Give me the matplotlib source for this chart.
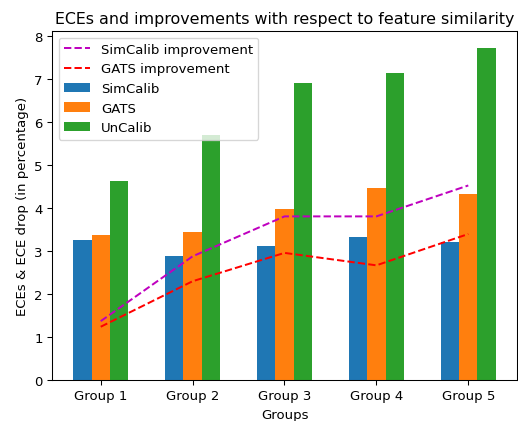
import numpy as np
import matplotlib.pyplot as plt

groups = ["Group 1", "Group 2", "Group 3", "Group 4", "Group 5"]
simcalib = [3.26, 2.88, 3.12, 3.34, 3.21]
gats = [3.38, 3.45, 3.98, 4.46, 4.33]
uncalib = [4.64, 5.71, 6.92, 7.15, 7.74]
simcalib_impr = [1.37, 2.88, 3.81, 3.81, 4.53]
gats_impr = [1.24, 2.30, 2.96, 2.67, 3.40]

x = np.arange(len(groups))
w = 0.2

# reference looks like it was drawn at a slightly lower dpi
dpi = 95
fig = plt.figure(figsize=(518 / dpi, 422 / dpi), dpi=dpi)
ax = fig.add_axes([52 / 518, 41 / 422, 465 / 518, 349 / 422])

ax.bar(x - w, simcalib, w, label="SimCalib")
ax.bar(x, gats, w, label="GATS")
ax.bar(x + w, uncalib, w, label="UnCalib")
ax.plot(x, simcalib_impr, "m--", label="SimCalib improvement")
ax.plot(x, gats_impr, "r--", label="GATS improvement")

ax.set_xticks(x)
ax.set_xticklabels(groups)
ax.set_xlabel("Groups")
ax.set_ylabel("ECEs & ECE drop (in percentage)")
ax.set_title("ECEs and improvements with respect to feature similarity")
ax.legend(loc="upper left")

plt.savefig("out.png", dpi=dpi)
